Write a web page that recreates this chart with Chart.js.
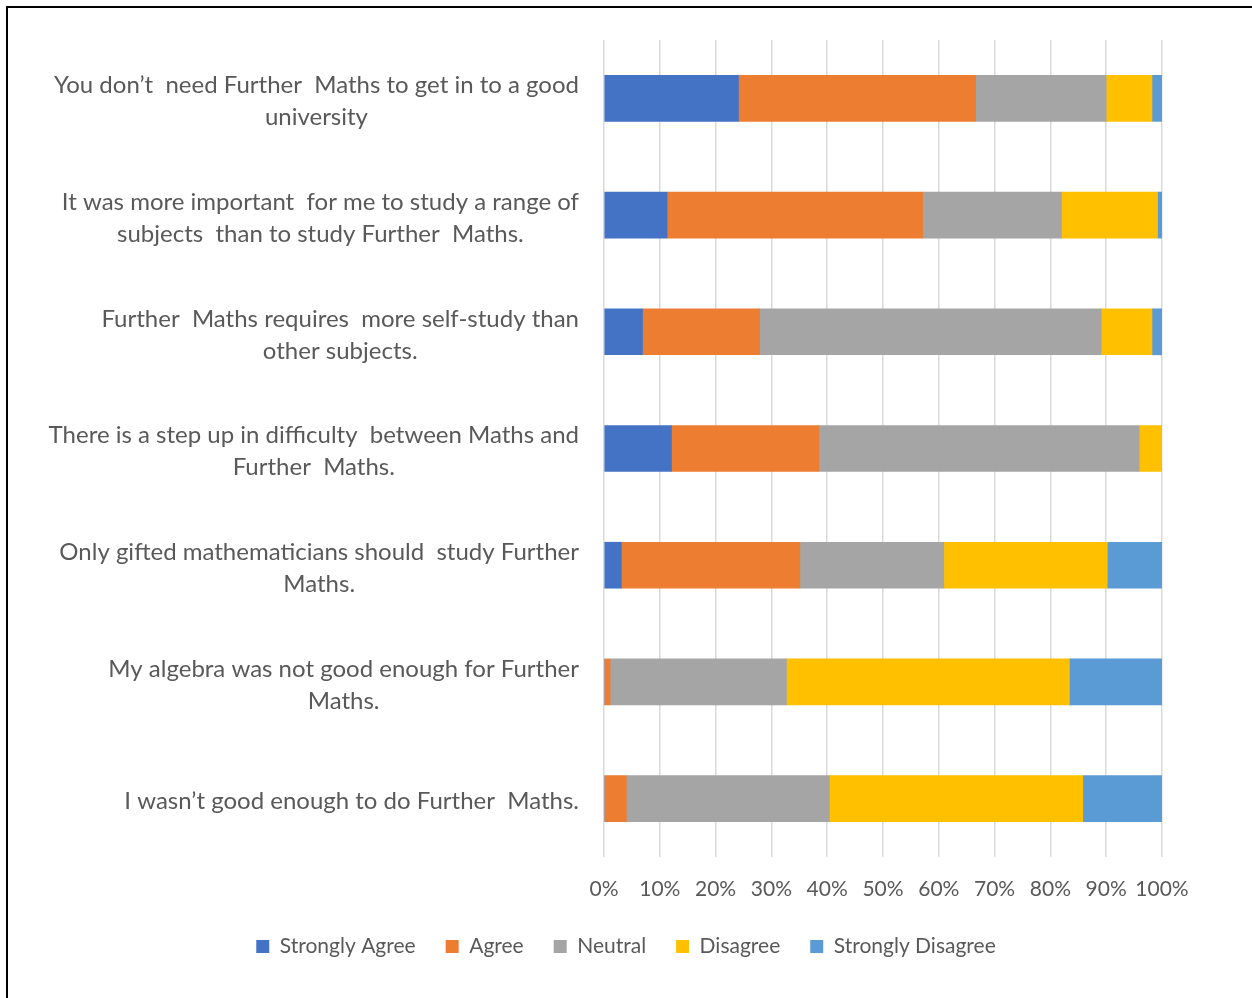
<!DOCTYPE html>
<html>
<head>
<meta charset="utf-8">
<script src="https://cdn.jsdelivr.net/npm/chart.js@4.4.1/dist/chart.umd.min.js"></script>
<style>
  body { margin: 0; background: #fff; }
  #wrap { position: relative; width: 1252px; height: 998px; }
  #frame { position: absolute; left: 6px; top: 6px; right: 0; bottom: 0;
           border-top: 2px solid #000; border-left: 2px solid #000; pointer-events: none; }
</style>
</head>
<body>
<div id="wrap">
  <canvas id="chart"></canvas>
  <div id="frame"></div>
</div>
<script>
var statements = [
  ["You don’t  need Further  Maths to get in to a good", "university"],
  ["It was more important  for me to study a range of", "subjects  than to study Further  Maths."],
  ["Further  Maths requires  more self-study than", "other subjects."],
  ["There is a step up in difficulty  between Maths and", "Further  Maths."],
  ["Only gifted mathematicians should  study Further", "Maths."],
  ["My algebra was not good enough for Further", "Maths."],
  ["I wasn’t good enough to do Further  Maths."]
];
var seriesNames = ["Strongly Agree", "Agree", "Neutral", "Disagree", "Strongly Disagree"];
var seriesColors = ["#4472C4", "#ED7D31", "#A5A5A5", "#FFC000", "#5B9BD5"];

// percent of responses per statement
var stronglyAgree    = [24.1, 11.3,  6.9, 12.1,  3.1,  0.0,  0.0];
var agree            = [42.5, 45.8, 21.0, 26.4, 32.0,  1.1,  4.0];
var neutral          = [23.4, 24.9, 61.2, 57.4, 25.8, 31.6, 36.4];
var disagree         = [ 8.2, 17.2,  9.1,  4.1, 29.3, 50.7, 45.4];
var stronglyDisagree = [ 1.8,  0.8,  1.8,  0.0,  9.8, 16.6, 14.2];

var tickValues = [0, 10, 20, 30, 40, 50, 60, 70, 80, 90, 100];

var allSeries = [stronglyAgree, agree, neutral, disagree, stronglyDisagree];
var datasets = [];
allSeries.forEach(function(vals, i) {
  datasets.push({
    label: seriesNames[i],
    data: vals,
    backgroundColor: seriesColors[i],
    borderWidth: 0,
    barThickness: 46
  });
});

var FONT = "Lato";
var TEXT = "#595959";

// y labels: block right aligned, lines centred inside the block
var labelPlugin = {
  id: 'labelPlugin',
  afterDraw: function(chart) {
    var ctx = chart.ctx;
    var y = chart.scales.y;
    var right = chart.chartArea.left - 25;
    var lh = 32;
    ctx.save();
    ctx.font = "24px " + FONT;
    ctx.fillStyle = TEXT;
    ctx.textAlign = "center";
    ctx.textBaseline = "middle";
    statements.forEach(function(lines, i) {
      var cy = y.getPixelForTick(i) + 3;
      var w = 0;
      lines.forEach(function(l) { w = Math.max(w, ctx.measureText(l).width); });
      var cx = right - w / 2;
      var top = cy - (lines.length - 1) * lh / 2;
      lines.forEach(function(l, j) {
        ctx.fillText(l, cx, top + j * lh);
      });
    });
    ctx.restore();
  }
};

var ctx = document.getElementById("chart").getContext("2d");
var chart = new Chart(ctx, {
  type: "bar",
  data: {
    labels: statements,
    datasets: datasets
  },
  options: {
    indexAxis: 'y',
    responsive: true,
    maintainAspectRatio: false,
    animation: false,
    layout: {
      padding: { left: 0, right: 0, top: 40, bottom: 31 }
    },
    plugins: {
      legend: {
        position: 'bottom',
        labels: {
          boxWidth: 13,
          boxHeight: 13,
          padding: 30,
          color: TEXT,
          font: { size: 21, family: FONT }
        }
      },
      tooltip: { enabled: false }
    },
    scales: {
      x: {
        stacked: true,
        min: 0,
        max: 100,
        afterBuildTicks: function(s) {
          s.ticks = tickValues.map(function(v) { return { value: v }; });
        },
        grid: {
          color: "#d9d9d9",
          lineWidth: 1.5,
          drawTicks: false
        },
        border: { display: false },
        ticks: {
          padding: 20,
          maxRotation: 0,
          minRotation: 0,
          autoSkip: false,
          color: TEXT,
          font: { size: 21, family: FONT },
          callback: function(v) { return v + "%"; }
        },
        afterFit: function(s) { s.height = 49; }
      },
      y: {
        stacked: true,
        grid: { display: false },
        border: { display: false },
        ticks: { display: false },
        afterFit: function(s) { s.width = 604; }
      },
      // empty right margin so the legend stays centred on the page
      yRight: {
        type: 'linear',
        position: 'right',
        grid: { display: false },
        border: { display: false },
        ticks: { display: false },
        afterFit: function(s) { s.width = 90; }
      }
    }
  },
  plugins: [labelPlugin]
});
</script>
</body>
</html>
